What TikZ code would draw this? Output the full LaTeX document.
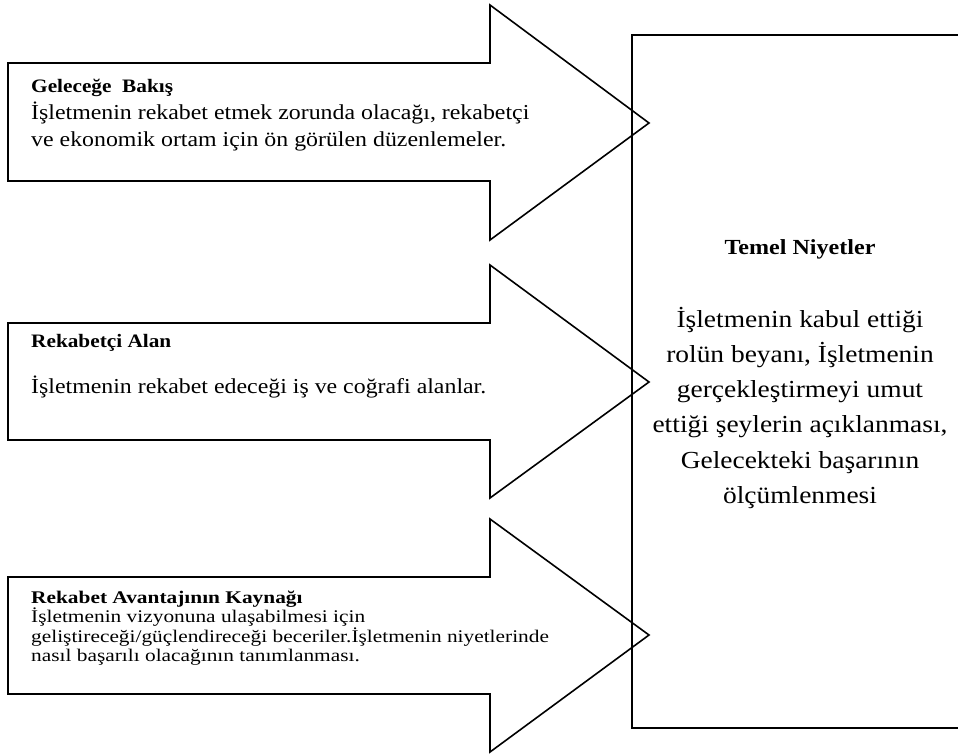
\documentclass[tikz,border=0pt]{standalone}
\usepackage{fontspec}
\setmainfont{Liberation Serif}
\newfontfamily\fA[FakeStretch=1.12]{Liberation Serif}
\newfontfamily\fB[FakeStretch=1.2]{Liberation Serif}
\newcommand{\ttl}[1]{{\fontsize{19}{27}\selectfont\textbf{#1}}}
\begin{document}
\begin{tikzpicture}[x=1pt,y=-1pt,
  outline/.style={draw=black,line width=1.6pt,line join=miter},
  arrtext/.style={anchor=base west,align=left,inner sep=0pt,font=\fA\fontsize{21.3}{27}\selectfont},
  smalltext/.style={anchor=base west,align=left,inner sep=0pt,font=\fB\fontsize{17.8}{19.5}\selectfont},
  boxtext/.style={anchor=base,align=center,inner sep=0pt,font=\fA\fontsize{24.5}{35.3}\selectfont}]
\useasboundingbox (0,0) rectangle (958,753);
% main box (right edge beyond picture)
\draw[outline] (962,35) -- (632,35) -- (632,728) -- (962,728);
% arrows
\draw[outline] (8,63) -- (490,63) -- (490,5) -- (649,123) -- (490,240) -- (490,181) -- (8,181) -- cycle;
\draw[outline] (8,323) -- (490,323) -- (490,265) -- (649,382) -- (490,498) -- (490,440) -- (8,440) -- cycle;
\draw[outline] (8,577) -- (490,577) -- (490,519) -- (649,635) -- (490,752) -- (490,694) -- (8,694) -- cycle;
% texts (anchor base = baseline of the last line)
\node[arrtext] (t1) at (31,146) {\ttl{Geleceğe\ \ Bakış}\\İşletmenin rekabet etmek zorunda olacağı, rekabetçi\\ve ekonomik ortam için ön görülen düzenlemeler.};
\node[arrtext] (t2) at (31,347) {\ttl{Rekabetçi Alan}};
\node[arrtext] (t3) at (31,393) {İşletmenin rekabet edeceği iş ve coğrafi alanlar.};
\node[smalltext] (t4) at (31,661.5) {\textbf{Rekabet Avantajının Kaynağı}\\İşletmenin vizyonuna ulaşabilmesi için\\geliştireceği/güçlendireceği beceriler.İşletmenin niyetlerinde\\nasıl başarılı olacağının tanımlanması.};
\node[boxtext,font=\fA\bfseries\fontsize{21.5}{25}\selectfont] (h) at (800,254) {Temel Niyetler};
\node[boxtext] (b) at (800,503.5) {İşletmenin kabul ettiği\\rolün beyanı, İşletmenin\\gerçekleştirmeyi umut\\ettiği şeylerin açıklanması,\\Gelecekteki başarının\\ölçümlenmesi};
\end{tikzpicture}
\end{document}
